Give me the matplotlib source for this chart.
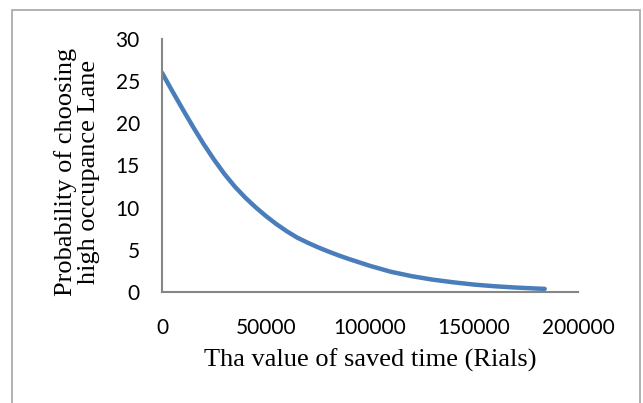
import matplotlib.pyplot as plt
from matplotlib.patches import Rectangle

# values
saved_value = [0, 5000, 10000, 15000, 20000, 25000, 30000, 35000, 40000, 45000,
               50000, 55000, 60000, 65000, 70000, 75000, 80000, 85000, 90000, 95000,
               100000, 110000, 120000, 130000, 140000, 150000, 160000, 170000,
               180000, 184000]
probability = [26.0, 23.8, 21.65, 19.55, 17.55, 15.7, 14.0, 12.5, 11.2, 10.05,
               9.0, 8.05, 7.2, 6.45, 5.85, 5.3, 4.8, 4.33, 3.9, 3.5,
               3.1, 2.4, 1.88, 1.47, 1.15, 0.88, 0.68, 0.53,
               0.41, 0.37]

x_ticks = [0, 50000, 100000, 150000, 200000]
y_ticks = [0, 5, 10, 15, 20, 25, 30]

W, H = 643, 403
fig = plt.figure(figsize=(W / 100, H / 100), dpi=100)

# chart border (light gray, open at the bottom)
fig.patches.append(Rectangle((12 / W, -0.05), (640 - 12) / W, 1.05 - 10 / H,
                             transform=fig.transFigure, fill=False,
                             edgecolor='#a6a6a6', linewidth=1.2))

ax = fig.add_axes([162 / W, 1 - 292 / H, (578 - 162) / W, (292 - 39) / H])
ax.plot(saved_value, probability, color='#4a7ebb', linewidth=3.2,
        solid_capstyle='round', solid_joinstyle='round')

ax.set_xlim(0, 200000)
ax.set_ylim(0, 30)
ax.set_xticks(x_ticks)
ax.set_yticks(y_ticks)
ax.set_xticklabels([str(v) for v in x_ticks])
ax.set_yticklabels([str(v) for v in y_ticks])

for side in ['top', 'right']:
    ax.spines[side].set_visible(False)
for side in ['left', 'bottom']:
    ax.spines[side].set_color('#868686')
    ax.spines[side].set_linewidth(1.5)

ax.tick_params(axis='both', length=0, labelsize=15, colors='black')
ax.tick_params(axis='x', pad=19)
ax.tick_params(axis='y', pad=16)
for lbl in ax.get_xticklabels() + ax.get_yticklabels():
    lbl.set_fontfamily('Lato')

fig.text(370 / W, 1 - 360 / H, 'Tha value of saved time (Rials)',
         ha='center', va='center', fontsize=19, family='Liberation Serif')
fig.text(77 / W, 1 - 172 / H, 'Probability of choosing\nhigh occupance Lane',
         ha='center', va='center', rotation=90, multialignment='center',
         fontsize=19, family='Liberation Serif', linespacing=1.08)

fig.savefig('out.png', dpi=100, facecolor='white')
